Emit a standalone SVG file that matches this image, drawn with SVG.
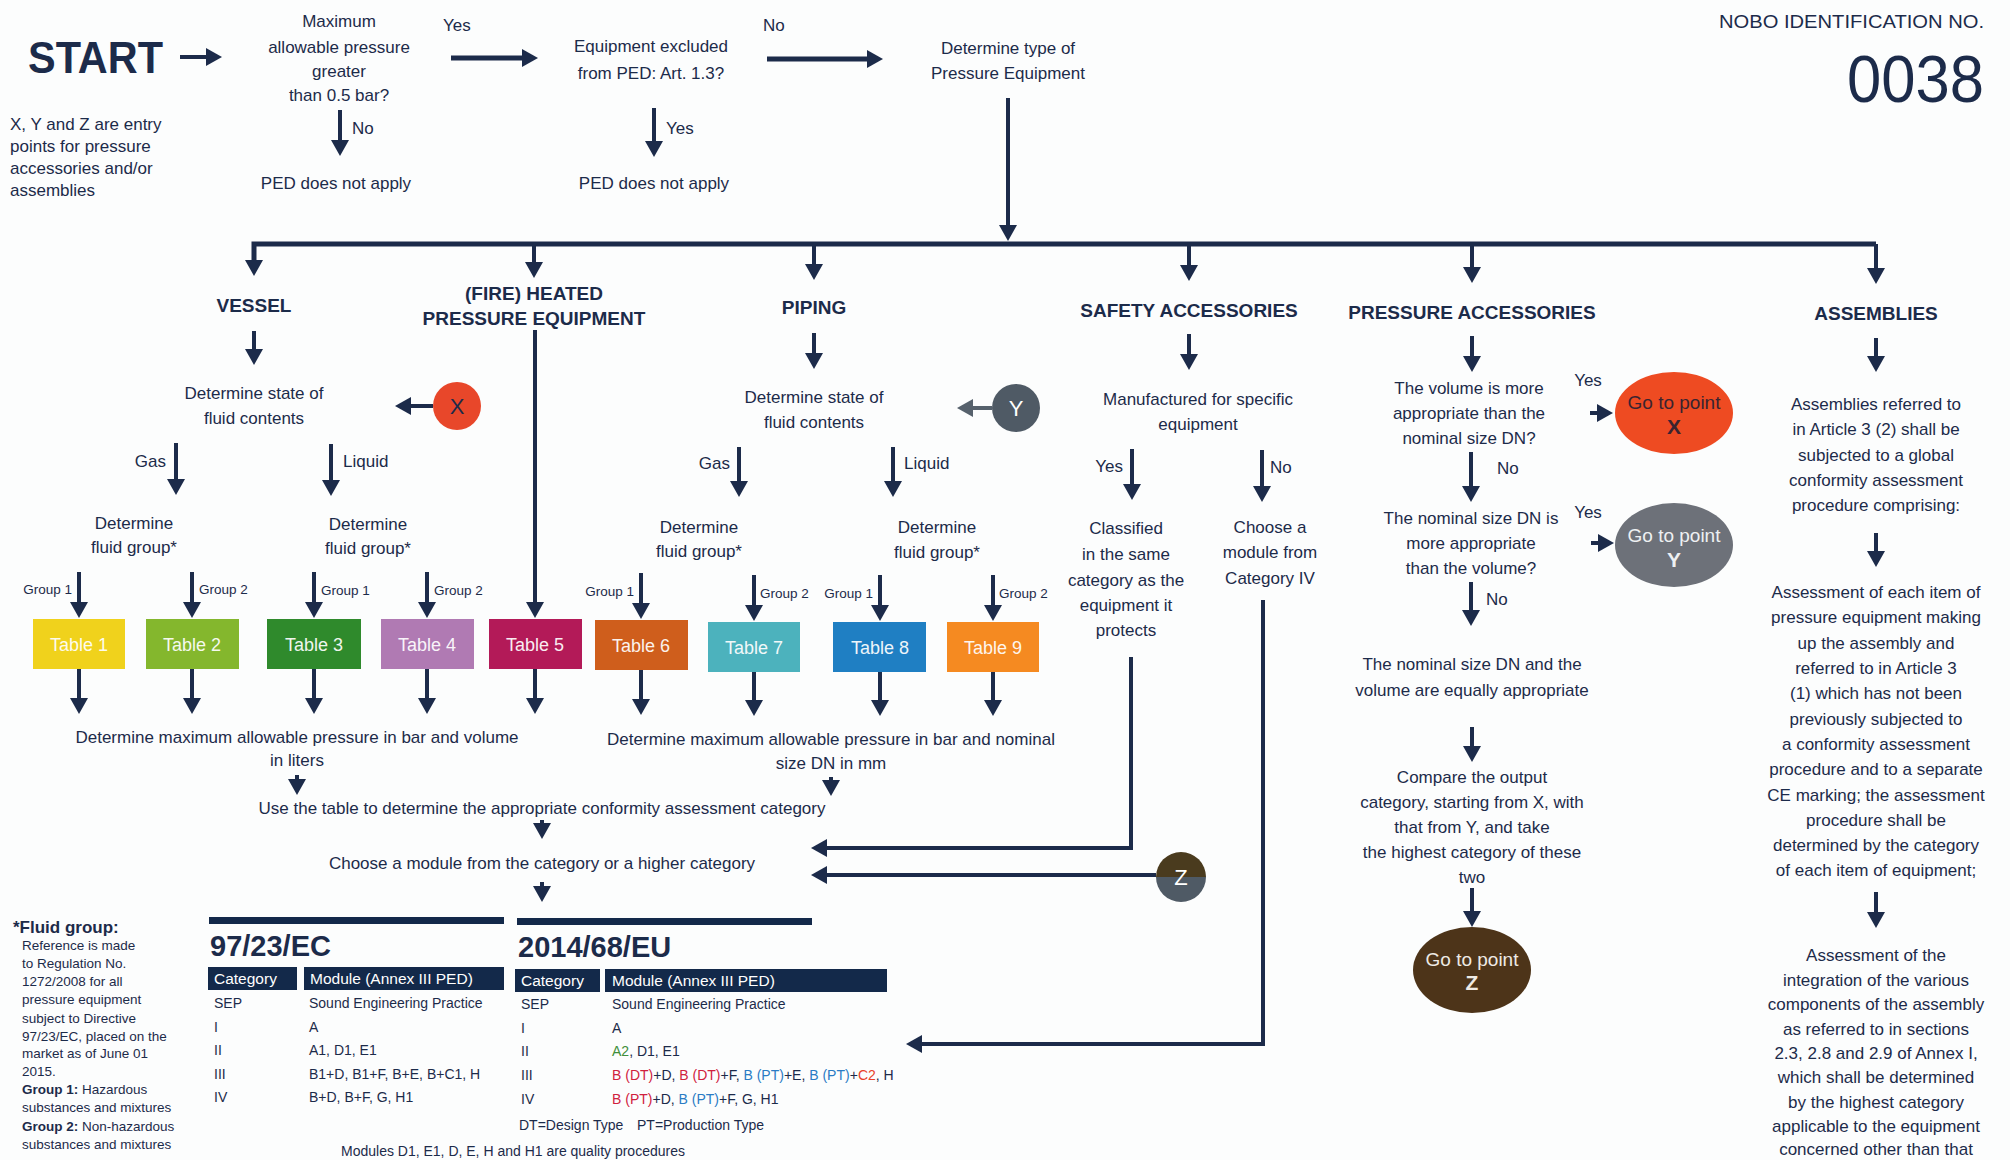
<svg xmlns="http://www.w3.org/2000/svg" width="2010" height="1160" viewBox="0 0 2010 1160">
<style>
text{font-family:"Liberation Sans",Arial,sans-serif;fill:#1c2b4a}
.t{font-size:17px;text-anchor:middle}
.l{font-size:17px}
.h{font-size:19px;font-weight:bold;text-anchor:middle}
.g{font-size:13.5px}
.tb{font-size:18px;fill:#ffffff;text-anchor:middle;opacity:.92}
.s{font-size:13.5px}
.r{font-size:14px}
.hd{font-size:15.5px;fill:#ffffff}
.c{stroke:#1c2b4a;stroke-width:4;fill:none;marker-end:url(#ah)}
.ck{stroke:#1c2b4a;stroke-width:5;fill:none;marker-end:url(#ah)}
.cg{stroke:#56616c;stroke-width:4;fill:none;marker-end:url(#ahg)}
.red{fill:#d0213e}.blu{fill:#2a7bc4}.grn{fill:#3f8f3a}.org{fill:#e8402a}
</style>
<defs>
<marker id="ah" markerUnits="userSpaceOnUse" markerWidth="18" markerHeight="18" refX="2" refY="9" orient="auto">
<path d="M0,0 L16,9 L0,18 z" fill="#1c2b4a"/>
</marker>
<marker id="ahg" markerUnits="userSpaceOnUse" markerWidth="18" markerHeight="18" refX="2" refY="9" orient="auto">
<path d="M0,0 L16,9 L0,18 z" fill="#56616c"/>
</marker>
</defs>
<rect width="2010" height="1160" fill="#fcfdfd"/>

<g id="connectors">
<path class="c" d="M180,57 H208"/>
<path class="ck" d="M451,58 H524"/>
<path class="ck" d="M767,59 H869"/>
<path class="c" d="M340,110 V142"/>
<path class="c" d="M654,108 V143"/>
<path class="c" d="M1008,98 V227"/>
<path class="ck" d="M1876,244 H254 V262"/>
<path class="c" d="M1876,244 V270"/>
<path class="c" d="M534,244 V264"/>
<path class="c" d="M814,244 V266"/>
<path class="c" d="M1189,244 V267"/>
<path class="c" d="M1472,244 V269"/>
<path class="c" d="M254,331 V351"/>
<path class="c" d="M433,406 H409"/>
<path class="c" d="M176,443 V481"/>
<path class="c" d="M331,444 V482"/>
<path class="c" d="M79,572 V604"/>
<path class="c" d="M192,572 V604"/>
<path class="c" d="M314,572 V604"/>
<path class="c" d="M427,572 V604"/>
<path class="c" d="M535,330 V604"/>
<path class="c" d="M641,573 V605"/>
<path class="c" d="M754,575 V607"/>
<path class="c" d="M880,575 V607"/>
<path class="c" d="M993,575 V607"/>
<path class="c" d="M79,669 V700"/>
<path class="c" d="M192,669 V700"/>
<path class="c" d="M314,669 V700"/>
<path class="c" d="M427,669 V700"/>
<path class="c" d="M535,669 V700"/>
<path class="c" d="M641,670 V701"/>
<path class="c" d="M754,672 V702"/>
<path class="c" d="M880,672 V702"/>
<path class="c" d="M993,672 V702"/>
<path class="c" d="M297,775 V781"/>
<path class="c" d="M831,777 V782"/>
<path class="c" d="M542,820 V825"/>
<path class="c" d="M542,882 V888"/>
<path class="c" d="M814,333 V355"/>
<path class="cg" d="M992,408 H971"/>
<path class="c" d="M739,447 V483"/>
<path class="c" d="M893,447 V483"/>
<path class="c" d="M1189,334 V356"/>
<path class="c" d="M1132,449 V486"/>
<path class="c" d="M1262,450 V488"/>
<path class="c" d="M1131,657 V848 H825"/>
<path class="c" d="M1156,875 H825"/>
<path class="c" d="M1263,600 V1044 H920"/>
<path class="c" d="M1472,336 V358"/>
<path class="c" d="M1590,413 H1599"/>
<path class="c" d="M1471,452 V488"/>
<path class="c" d="M1591,543 H1600"/>
<path class="c" d="M1471,582 V612"/>
<path class="c" d="M1472,727 V748"/>
<path class="c" d="M1472,888 V913"/>
<path class="c" d="M1876,338 V358"/>
<path class="c" d="M1876,533 V553"/>
<path class="c" d="M1876,892 V914"/>
</g>

<g id="start"><text x="28" y="73" font-size="44" font-weight="bold" textLength="135" lengthAdjust="spacingAndGlyphs">START</text></g>
<g id="q-pressure">
<text class="t" x="339" y="27">Maximum</text>
<text class="t" x="339" y="53">allowable pressure</text>
<text class="t" x="339" y="77">greater</text>
<text class="t" x="339" y="101">than 0.5 bar?</text>
<text class="l" x="443" y="31">Yes</text>
<text class="l" x="352" y="134">No</text>
</g>
<g id="ped-na-1"><text class="t" x="336" y="189">PED does not apply</text></g>
<g id="q-excluded">
<text class="t" x="651" y="52">Equipment excluded</text>
<text class="t" x="651" y="79">from PED: Art. 1.3?</text>
<text class="l" x="763" y="31">No</text>
<text class="l" x="666" y="134">Yes</text>
</g>
<g id="ped-na-2"><text class="t" x="654" y="189">PED does not apply</text></g>
<g id="type"><text class="t" x="1008" y="54">Determine type of</text><text class="t" x="1008" y="79">Pressure Equipment</text></g>
<g id="note-xyz">
<text class="l" x="10" y="130">X, Y and Z are entry</text>
<text class="l" x="10" y="152">points for pressure</text>
<text class="l" x="10" y="174">accessories and/or</text>
<text class="l" x="10" y="196">assemblies</text>
</g>
<g id="nobo">
<text x="1984" y="28" font-size="19" text-anchor="end" textLength="265" lengthAdjust="spacingAndGlyphs">NOBO IDENTIFICATION NO.</text>
<text x="1984" y="102" font-size="66" text-anchor="end" textLength="137" lengthAdjust="spacingAndGlyphs">0038</text>
</g>

<g id="vessel">
<text class="h" x="254" y="312">VESSEL</text>
<text class="t" x="254" y="399">Determine state of</text>
<text class="t" x="254" y="424">fluid contents</text>
<text class="l" x="166" y="467" text-anchor="end">Gas</text>
<text class="l" x="343" y="467">Liquid</text>
<text class="t" x="134" y="529">Determine</text>
<text class="t" x="134" y="553">fluid group*</text>
<text class="t" x="368" y="530">Determine</text>
<text class="t" x="368" y="554">fluid group*</text>
<text class="g" x="72" y="594" text-anchor="end">Group 1</text>
<text class="g" x="199" y="594">Group 2</text>
<text class="g" x="321" y="595">Group 1</text>
<text class="g" x="434" y="595">Group 2</text>
</g>
<g id="point-x-small"><circle cx="457" cy="406" r="24" fill="#e8472a"/><text x="457" y="414" font-size="22" text-anchor="middle">X</text></g>
<g id="fired"><text class="h" x="534" y="300">(FIRE) HEATED</text><text class="h" x="534" y="325">PRESSURE EQUIPMENT</text></g>
<g id="piping">
<text class="h" x="814" y="314">PIPING</text>
<text class="t" x="814" y="403">Determine state of</text>
<text class="t" x="814" y="428">fluid contents</text>
<text class="l" x="730" y="469" text-anchor="end">Gas</text>
<text class="l" x="904" y="469">Liquid</text>
<text class="t" x="699" y="533">Determine</text>
<text class="t" x="699" y="557">fluid group*</text>
<text class="t" x="937" y="533">Determine</text>
<text class="t" x="937" y="558">fluid group*</text>
<text class="g" x="634" y="596" text-anchor="end">Group 1</text>
<text class="g" x="760" y="598">Group 2</text>
<text class="g" x="873" y="598" text-anchor="end">Group 1</text>
<text class="g" x="999" y="598">Group 2</text>
</g>
<g id="point-y-small"><circle cx="1016" cy="408" r="24" fill="#4f5a65"/><text x="1016" y="416" font-size="22" text-anchor="middle" style="fill:#fff">Y</text></g>

<g id="tables">
<rect x="33" y="619" width="92" height="50" fill="#f0d21c"/><text class="tb" x="79" y="651">Table 1</text>
<rect x="146" y="619" width="93" height="50" fill="#84b72d"/><text class="tb" x="192" y="651">Table 2</text>
<rect x="267" y="619" width="94" height="50" fill="#2f8a2c"/><text class="tb" x="314" y="651">Table 3</text>
<rect x="381" y="619" width="93" height="50" fill="#b07ab3"/><text class="tb" x="427" y="651">Table 4</text>
<rect x="489" y="619" width="93" height="50" fill="#b31a58"/><text class="tb" x="535" y="651">Table 5</text>
<rect x="595" y="620" width="93" height="50" fill="#cf5e1c"/><text class="tb" x="641" y="652">Table 6</text>
<rect x="708" y="622" width="92" height="50" fill="#4cb2bd"/><text class="tb" x="754" y="654">Table 7</text>
<rect x="833" y="622" width="93" height="50" fill="#1f7fc3"/><text class="tb" x="880" y="654">Table 8</text>
<rect x="947" y="622" width="92" height="50" fill="#f58a21"/><text class="tb" x="993" y="654">Table 9</text>
</g>

<g id="max-volume"><text class="t" x="297" y="743">Determine maximum allowable pressure in bar and volume</text><text class="t" x="297" y="766">in liters</text></g>
<g id="max-dn"><text class="t" x="831" y="745">Determine maximum allowable pressure in bar and nominal</text><text class="t" x="831" y="769">size DN in mm</text></g>
<g id="use-table"><text class="t" x="542" y="814">Use the table to determine the appropriate conformity assessment category</text></g>
<g id="choose-module"><text class="t" x="542" y="869">Choose a module from the category or a higher category</text></g>

<g id="safety">
<text class="h" x="1189" y="317">SAFETY ACCESSORIES</text>
<text class="t" x="1198" y="405">Manufactured for specific</text>
<text class="t" x="1198" y="430">equipment</text>
<text class="l" x="1123" y="472" text-anchor="end">Yes</text>
<text class="l" x="1270" y="473">No</text>
<text class="t" x="1126" y="534">Classified</text>
<text class="t" x="1126" y="560">in the same</text>
<text class="t" x="1126" y="586">category as the</text>
<text class="t" x="1126" y="611">equipment it</text>
<text class="t" x="1126" y="636">protects</text>
<text class="t" x="1270" y="533">Choose a</text>
<text class="t" x="1270" y="558">module from</text>
<text class="t" x="1270" y="584">Category IV</text>
</g>
<g id="point-z-small">
<path d="M1156,877 A25,25 0 0 1 1206,877 Z" fill="#4a3b1e"/>
<path d="M1156,877 A25,25 0 0 0 1206,877 Z" fill="#4f5a65"/>
<text x="1181" y="885" font-size="22" text-anchor="middle" style="fill:#fff">Z</text>
</g>

<g id="pressure-acc">
<text class="h" x="1472" y="319">PRESSURE ACCESSORIES</text>
<text class="t" x="1469" y="394">The volume is more</text>
<text class="t" x="1469" y="419">appropriate than the</text>
<text class="t" x="1469" y="444">nominal size DN?</text>
<text class="t" x="1588" y="386">Yes</text>
<text class="l" x="1497" y="474">No</text>
<text class="t" x="1471" y="524">The nominal size DN is</text>
<text class="t" x="1471" y="549">more appropriate</text>
<text class="t" x="1471" y="574">than the volume?</text>
<text class="t" x="1588" y="518">Yes</text>
<text class="l" x="1486" y="605">No</text>
<text class="t" x="1472" y="670">The nominal size DN and the</text>
<text class="t" x="1472" y="696">volume are equally appropriate</text>
<text class="t" x="1472" y="783">Compare the output</text>
<text class="t" x="1472" y="808">category, starting from X, with</text>
<text class="t" x="1472" y="833">that from Y, and take</text>
<text class="t" x="1472" y="858">the highest category of these</text>
<text class="t" x="1472" y="883">two</text>
</g>
<g id="goto-x"><ellipse cx="1674" cy="413" rx="59" ry="41" fill="#ee4b22"/><text x="1674" y="409" font-size="19" text-anchor="middle" style="fill:#3a2430">Go to point</text><text x="1674" y="434" font-size="21" font-weight="bold" text-anchor="middle" style="fill:#3a2430">X</text></g>
<g id="goto-y"><ellipse cx="1674" cy="545" rx="59" ry="42" fill="#6d7179"/><text x="1674" y="542" font-size="19" text-anchor="middle" style="fill:#eef0f2">Go to point</text><text x="1674" y="567" font-size="21" font-weight="bold" text-anchor="middle" style="fill:#eef0f2">Y</text></g>
<g id="goto-z"><ellipse cx="1472" cy="970" rx="59" ry="43" fill="#4d3419"/><text x="1472" y="966" font-size="19" text-anchor="middle" style="fill:#eeeae4">Go to point</text><text x="1472" y="990" font-size="21" font-weight="bold" text-anchor="middle" style="fill:#eeeae4">Z</text></g>

<g id="assemblies">
<text class="h" x="1876" y="320">ASSEMBLIES</text>
<text class="t" x="1876" y="410">Assemblies referred to</text>
<text class="t" x="1876" y="435">in Article 3 (2) shall be</text>
<text class="t" x="1876" y="461">subjected to a global</text>
<text class="t" x="1876" y="486">conformity assessment</text>
<text class="t" x="1876" y="511">procedure comprising:</text>
<text class="t" x="1876" y="598">Assessment of each item of</text>
<text class="t" x="1876" y="623">pressure equipment making</text>
<text class="t" x="1876" y="649">up the assembly and</text>
<text class="t" x="1876" y="674">referred to in Article 3</text>
<text class="t" x="1876" y="699">(1) which has not been</text>
<text class="t" x="1876" y="725">previously subjected to</text>
<text class="t" x="1876" y="750">a conformity assessment</text>
<text class="t" x="1876" y="775">procedure and to a separate</text>
<text class="t" x="1876" y="801">CE marking; the assessment</text>
<text class="t" x="1876" y="826">procedure shall be</text>
<text class="t" x="1876" y="851">determined by the category</text>
<text class="t" x="1876" y="876">of each item of equipment;</text>
<text class="t" x="1876" y="961">Assessment of the</text>
<text class="t" x="1876" y="986">integration of the various</text>
<text class="t" x="1876" y="1010">components of the assembly</text>
<text class="t" x="1876" y="1035">as referred to in sections</text>
<text class="t" x="1876" y="1059">2.3, 2.8 and 2.9 of Annex I,</text>
<text class="t" x="1876" y="1083">which shall be determined</text>
<text class="t" x="1876" y="1108">by the highest category</text>
<text class="t" x="1876" y="1132">applicable to the equipment</text>
<text class="t" x="1876" y="1155">concerned other than that</text>
</g>

<g id="fluid-note">
<text x="13" y="933" font-size="17" font-weight="bold">*Fluid group:</text>
<text class="s" x="22" y="950">Reference is made</text>
<text class="s" x="22" y="968">to Regulation No.</text>
<text class="s" x="22" y="986">1272/2008 for all</text>
<text class="s" x="22" y="1004">pressure equipment</text>
<text class="s" x="22" y="1023">subject to Directive</text>
<text class="s" x="22" y="1041">97/23/EC, placed on the</text>
<text class="s" x="22" y="1058">market as of June 01</text>
<text class="s" x="22" y="1076">2015.</text>
<text class="s" x="22" y="1094"><tspan font-weight="bold">Group 1:</tspan> Hazardous</text>
<text class="s" x="22" y="1112">substances and mixtures</text>
<text class="s" x="22" y="1131"><tspan font-weight="bold">Group 2:</tspan> Non-hazardous</text>
<text class="s" x="22" y="1149">substances and mixtures</text>
</g>

<g id="table-9723ec">
<rect x="209" y="917" width="295" height="7" fill="#13294a"/>
<text x="210" y="956" font-size="29" font-weight="bold">97/23/EC</text>
<rect x="208" y="967" width="89" height="23" fill="#13294a"/>
<rect x="304" y="967" width="200" height="23" fill="#13294a"/>
<text class="hd" x="214" y="984">Category</text>
<text class="hd" x="310" y="984">Module (Annex III PED)</text>
<text class="r" x="214" y="1008">SEP</text><text class="r" x="309" y="1008">Sound Engineering Practice</text>
<text class="r" x="214" y="1032">I</text><text class="r" x="309" y="1032">A</text>
<text class="r" x="214" y="1055">II</text><text class="r" x="309" y="1055">A1, D1, E1</text>
<text class="r" x="214" y="1079">III</text><text class="r" x="309" y="1079">B1+D, B1+F, B+E, B+C1, H</text>
<text class="r" x="214" y="1102">IV</text><text class="r" x="309" y="1102">B+D, B+F, G, H1</text>
</g>
<g id="table-201468eu">
<rect x="517" y="918" width="295" height="7" fill="#13294a"/>
<text x="518" y="957" font-size="29" font-weight="bold">2014/68/EU</text>
<rect x="515" y="969" width="85" height="23" fill="#13294a"/>
<rect x="605" y="969" width="282" height="23" fill="#13294a"/>
<text class="hd" x="521" y="986">Category</text>
<text class="hd" x="612" y="986">Module (Annex III PED)</text>
<text class="r" x="521" y="1009">SEP</text><text class="r" x="612" y="1009">Sound Engineering Practice</text>
<text class="r" x="521" y="1033">I</text><text class="r" x="612" y="1033">A</text>
<text class="r" x="521" y="1056">II</text><text class="r" x="612" y="1056"><tspan class="grn">A2</tspan>, D1, E1</text>
<text class="r" x="521" y="1080">III</text><text class="r" x="612" y="1080"><tspan class="red">B (DT)</tspan>+D, <tspan class="red">B (DT)</tspan>+F, <tspan class="blu">B (PT)</tspan>+E, <tspan class="blu">B (PT)</tspan>+<tspan class="org">C2</tspan>, H</text>
<text class="r" x="521" y="1104">IV</text><text class="r" x="612" y="1104"><tspan class="red">B (PT)</tspan>+D, <tspan class="blu">B (PT)</tspan>+F, G, H1</text>
<text class="r" x="519" y="1130">DT=Design Type</text>
<text class="r" x="637" y="1130">PT=Production Type</text>
</g>
<g id="modules-note"><text class="r" x="341" y="1156">Modules D1, E1, D, E, H and H1 are quality procedures</text></g>
</svg>
